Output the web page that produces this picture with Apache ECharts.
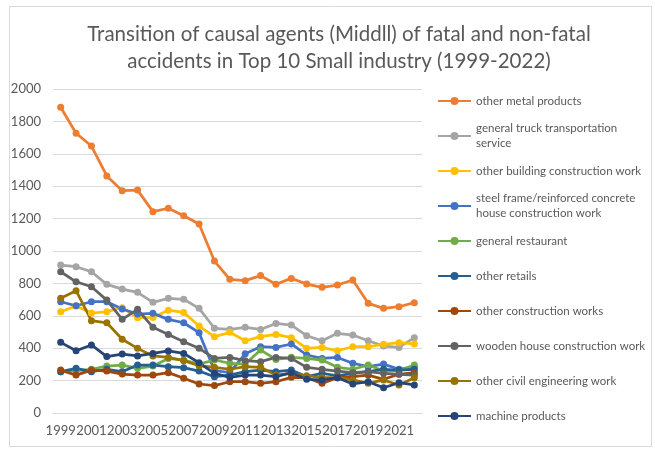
<!DOCTYPE html>
<html>
<head>
<meta charset="utf-8">
<style>
  html, body { margin: 0; padding: 0; background: #fff; }
  #chart { width: 655px; height: 449px; }
</style>
<script src="https://cdn.jsdelivr.net/npm/echarts@6/dist/echarts.min.js"></script>
</head>
<body>
<div id="chart"></div>
<script>
// ===== data =====
const years = ['1999', '2000', '2001', '2002', '2003', '2004', '2005', '2006', '2007', '2008', '2009', '2010',
  '2011', '2012', '2013', '2014', '2015', '2016', '2017', '2018', '2019', '2020', '2021', '2022'];
const yTicks = { min: 0, max: 2000, interval: 200 };

const otherMetal = [1887, 1727, 1648, 1463, 1372, 1376, 1243, 1264, 1218, 1167, 938, 825, 817, 848, 795, 831, 796, 776, 790, 821, 677, 646, 656, 681];
const truckTransport = [913, 903, 872, 794, 765, 745, 683, 708, 702, 646, 523, 516, 529, 516, 553, 543, 477, 446, 492, 481, 446, 413, 405, 465];
const otherBuilding = [625, 660, 617, 625, 650, 588, 590, 635, 621, 537, 471, 498, 446, 471, 485, 465, 399, 405, 384, 409, 409, 424, 434, 426];
const steelFrame = [687, 662, 687, 687, 642, 611, 615, 578, 557, 496, 262, 250, 365, 409, 405, 426, 358, 337, 343, 307, 286, 302, 270, 286];
const restaurant = [255, 262, 270, 290, 296, 276, 290, 337, 327, 302, 327, 307, 302, 389, 331, 344, 337, 327, 282, 270, 296, 259, 261, 296];
const otherRetails = [255, 276, 255, 270, 255, 296, 296, 286, 280, 259, 224, 234, 255, 265, 255, 265, 224, 245, 230, 245, 255, 270, 265, 270];
const otherConstruction = [265, 234, 265, 259, 240, 234, 234, 249, 214, 179, 169, 193, 193, 183, 193, 220, 218, 183, 218, 224, 234, 208, 239, 249];
const woodenHouse = [872, 810, 779, 697, 578, 640, 529, 485, 440, 399, 337, 343, 323, 317, 343, 337, 282, 270, 259, 249, 255, 245, 239, 234];
const civilEngineering = [708, 755, 570, 557, 455, 399, 352, 343, 323, 292, 282, 270, 286, 282, 234, 245, 230, 218, 218, 204, 183, 204, 173, 218];
const machineProducts = [436, 384, 420, 348, 364, 352, 368, 383, 368, 310, 245, 220, 234, 234, 224, 249, 208, 204, 218, 179, 193, 156, 187, 173];

const seriesNames = [
  'other metal products',
  'general truck transportation service',
  'other building construction work',
  'steel frame/reinforced concrete house construction work',
  'general restaurant',
  'other retails',
  'other construction works',
  'wooden house construction work',
  'other civil engineering work',
  'machine products'
];
const seriesValues = [otherMetal, truckTransport, otherBuilding, steelFrame, restaurant,
  otherRetails, otherConstruction, woodenHouse, civilEngineering, machineProducts];
const seriesColors = ['#ED7D31', '#A5A5A5', '#FFC000', '#4472C4', '#70AD47',
  '#255E91', '#9E480E', '#636363', '#997300', '#264478'];

// ===== style =====
const FONT = 'Lato';
const TEXT = '#595959';
const GRID_LINE = '#D9D9D9';

const chart = echarts.init(document.getElementById('chart'), null, { renderer: 'canvas' });

// 每个图例项一个 legend，固定 35px 一格（像 Excel 一样，换行不挤占下一项）
const legends = seriesNames.map((name, i) => ({
  data: [name],
  orient: 'vertical',
  left: 437,
  top: 101 + i * 35 - 22.5,
  padding: 0,
  itemWidth: 33,
  itemHeight: 10,
  selectedMode: false,
  textStyle: {
    fontFamily: FONT,
    fontSize: 11.5,
    color: TEXT,
    width: 178,
    overflow: 'break',
    lineHeight: 15,
    height: 30,
    padding: [15, 0, 0, 0]
  }
}));

const option = {
  backgroundColor: '#fff',
  animation: false,
  title: {
    text: 'Transition of causal agents (Middll) of fatal and non-fatal\naccidents in Top 10 Small industry (1999-2022)',
    left: 334,
    textAlign: 'center',
    top: 16,
    textStyle: { fontFamily: FONT, fontSize: 20.5, fontWeight: 'normal', color: TEXT, lineHeight: 27 }
  },
  graphic: [{
    type: 'rect',
    shape: { x: 9.5, y: 6.5, width: 642, height: 440 },
    style: { fill: 'none', stroke: GRID_LINE, lineWidth: 1 },
    silent: true
  }],
  legend: legends,
  grid: { left: 53, right: 233, top: 89, bottom: 36, containLabel: false },
  xAxis: {
    type: 'category',
    data: years,
    boundaryGap: true,
    axisLine: { lineStyle: { color: GRID_LINE } },
    axisTick: { show: false },
    axisLabel: { interval: 1, color: TEXT, fontFamily: FONT, fontSize: 13, margin: 11 }
  },
  yAxis: {
    type: 'value',
    min: yTicks.min,
    max: yTicks.max,
    interval: yTicks.interval,
    axisLine: { show: false },
    axisTick: { show: false },
    axisLabel: { color: TEXT, fontFamily: FONT, fontSize: 13, margin: 12, formatter: (v) => String(v) },
    splitLine: { lineStyle: { color: GRID_LINE } }
  },
  series: seriesNames.map((name, i) => ({
    name,
    type: 'line',
    data: seriesValues[i],
    symbol: 'circle',
    symbolSize: 7,
    color: seriesColors[i],
    lineStyle: { width: 2.75 },
    emphasis: { disabled: true }
  }))
};

chart.setOption(option);
</script>
</body>
</html>
